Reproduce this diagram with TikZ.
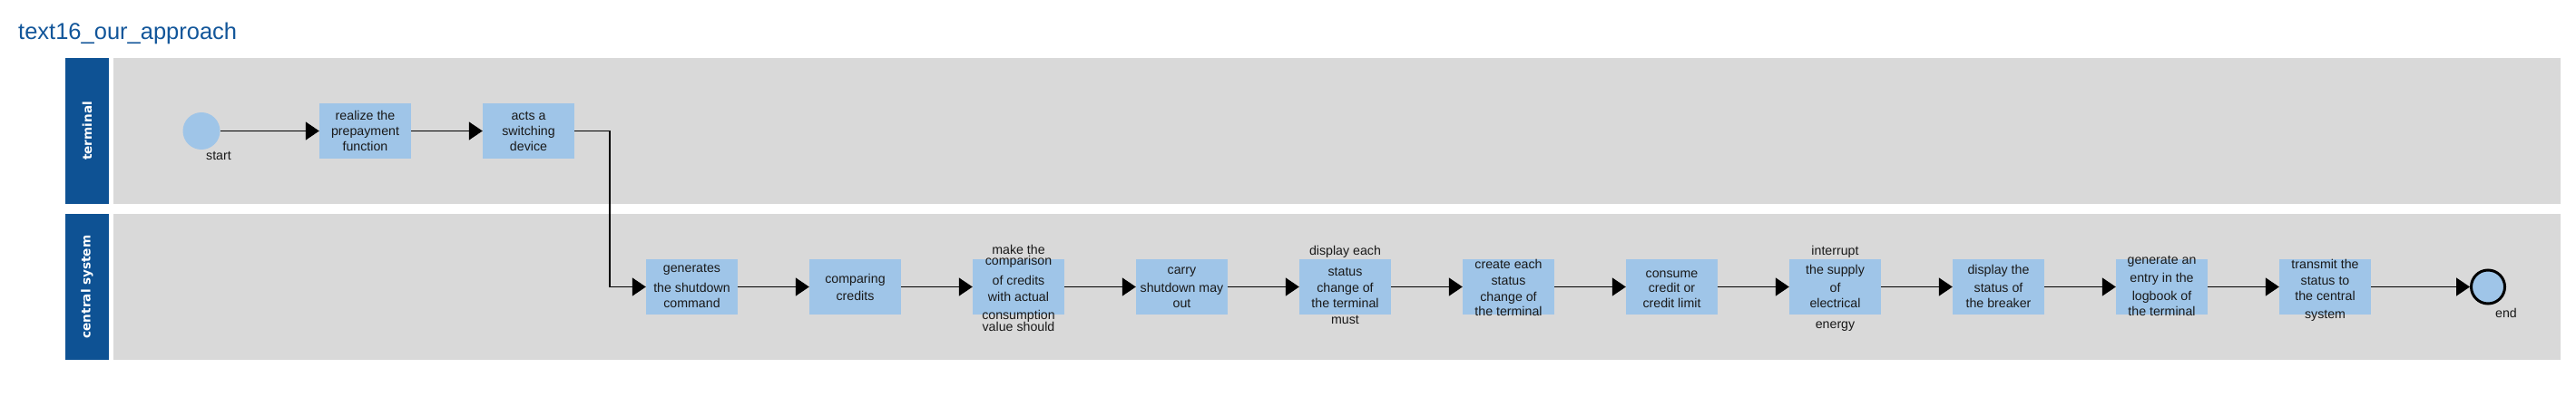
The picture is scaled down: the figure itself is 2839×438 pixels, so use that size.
\documentclass[tikz,border=0pt]{standalone}
\usepackage{fontspec}
\setmainfont{Liberation Sans}
\newfontfamily\lanefont{DejaVu Sans}
\usetikzlibrary{arrows.meta}
\definecolor{hdrblue}{RGB}{14,82,148}
\definecolor{titleblue}{RGB}{18,86,154}
\definecolor{lanegray}{RGB}{217,217,217}
\definecolor{actblue}{RGB}{159,197,232}
\definecolor{txtdark}{RGB}{25,25,25}
\newcommand\acttext[3]{%
  \foreach \yy/\tx [count=\k] in {#3} {\node[boxtext] (#1-\k) at (#2,\yy+5) {\tx};}}
\begin{document}
\begin{tikzpicture}[x=1pt,y=-1pt,
  lanehdr/.style={fill=hdrblue, draw=none, inner sep=0pt, minimum width=48pt, minimum height=161pt},
  lanebody/.style={fill=lanegray, draw=none, inner sep=0pt, minimum width=2697pt, minimum height=161pt},
  lanetext/.style={text=white, rotate=90, inner sep=0pt, font=\lanefont\bfseries\fontsize{13.6}{16}\selectfont},
  act/.style={fill=actblue, draw=none, inner sep=0pt, minimum width=101pt, minimum height=61pt},
  boxtext/.style={text=txtdark, inner sep=0pt, anchor=base, font=\fontsize{14.2}{17}\selectfont},
  evlabel/.style={text=txtdark, inner sep=0pt, font=\fontsize{14.2}{17}\selectfont},
  startev/.style={circle, fill=actblue, draw=none, inner sep=0pt, minimum size=41pt},
  endev/.style={circle, fill=actblue, draw=black, line width=3pt, inner sep=0pt, minimum size=37pt},
  flow/.style={draw=black, line width=1.3pt, -{Triangle[length=15pt,width=20pt]}}]
\useasboundingbox[fill=white] (0,0) rectangle (2839,438);
% title
\node[anchor=base west, inner sep=0pt, text=titleblue, font=\fontsize{25.5}{30}\selectfont] (title) at (20,44) {text16\_our\_approach};
% lanes
\node[lanehdr] (h1) at (96,144.5) {};
\node[lanebody] (l1) at (1473.5,144.5) {};
\node[lanetext] (h1t) at (h1.center) {terminal};
\node[lanehdr] (h2) at (96,316.5) {};
\node[lanebody] (l2) at (1473.5,316.5) {};
\node[lanetext] (h2t) at (h2.center) {central system};
% events
\node[startev] (start) at (222,144.5) {};
\node[evlabel] (startl) at (241,172) {start};
\node[endev] (end) at (2742,316.5) {};
\node[evlabel] (endl) at (2762,345) {end};
% activities
\node[act] (b1) at (402.5,144.5) {};
\node[act] (b2) at (582.5,144.5) {};
\foreach \i in {1,...,11} {\node[act] (c\i) at (582.5+180*\i,316.5) {};}
\acttext{b1}{402.5}{128/realize the,145/prepayment,162/function}
\acttext{b2}{582.5}{128/acts a,145/switching,162/device}
\acttext{c1}{762.5}{296/generates,317/the shutdown,334/command}
\acttext{c2}{942.5}{307/comparing,326/credits}
\acttext{c3}{1122.5}{275/make the,287/comparison,309/of credits,327/with actual,347/consumption,360/value should}
\acttext{c4}{1302.5}{297/carry,317/shutdown may,334/out}
\acttext{c5}{1482.5}{276/display each,300/status,317/change of,334/the terminal,352/must}
\acttext{c6}{1662.5}{292/create each,309/status,327/change of,343/the terminal}
\acttext{c7}{1842.5}{301/consume,317/credit or,334/credit limit}
\acttext{c8}{2022.5}{276/interrupt,297/the supply,317/of,334/electrical,357/energy}
\acttext{c9}{2202.5}{297/display the,317/status of,334/the breaker}
\acttext{c10}{2382.5}{286/generate an,306/entry in the,326/logbook of,343/the terminal}
\acttext{c11}{2562.5}{292/transmit the,309/status to,326/the central,346/system}
% connectors
\coordinate (bend) at (672,144.5);
\draw[flow] (start) -- (b1);
\draw[flow] (b1) -- (b2);
\draw[flow] (b2.east) -- (bend) |- (c1.west);
\foreach \i [evaluate=\i as \j using int(\i+1)] in {1,...,10} {\draw[flow] (c\i) -- (c\j);}
\draw[flow] (c11) -- (end);
\end{tikzpicture}
\end{document}
